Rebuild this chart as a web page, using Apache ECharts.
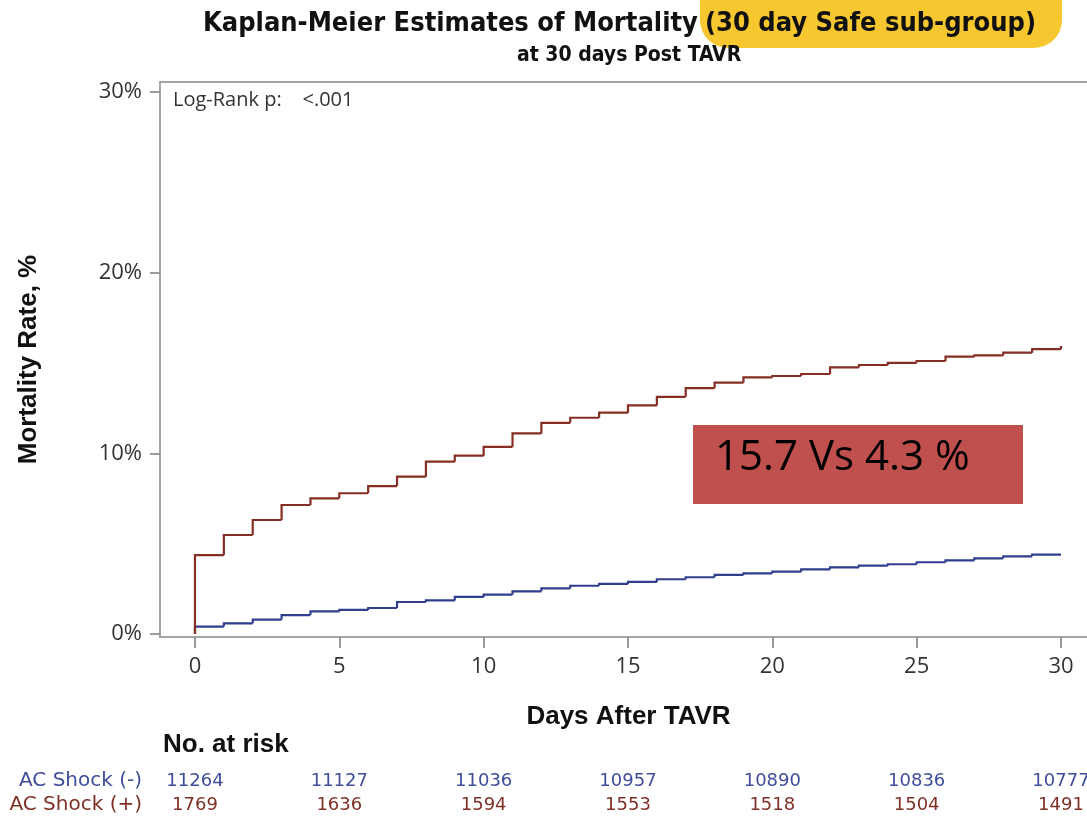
<!DOCTYPE html>
<html>
<head>
<meta charset="utf-8">
<script src="https://cdn.jsdelivr.net/npm/echarts@6/dist/echarts.min.js"></script>
<style>html,body{margin:0;padding:0;background:#fff}#c{width:1087px;height:817px}</style>
</head>
<body>
<div id="c"></div>
<script>
// ---- data ----
const days = [0,1,2,3,4,5,6,7,8,9,10,11,12,13,14,15,16,17,18,19,20,21,22,23,24,25,26,27,28,29,30];
// cumulative mortality (%) from each day onward
const shockPlus  = [4.37,5.48,6.31,7.14,7.51,7.79,8.19,8.71,9.54,9.87,10.36,11.10,11.69,11.97,12.25,12.65,13.13,13.61,13.91,14.20,14.28,14.39,14.76,14.89,15.01,15.11,15.35,15.42,15.57,15.77,15.94];
const shockMinus = [0.41,0.59,0.80,1.05,1.25,1.33,1.44,1.77,1.86,2.05,2.18,2.36,2.52,2.67,2.77,2.88,3.03,3.14,3.27,3.36,3.45,3.58,3.69,3.78,3.86,3.97,4.08,4.19,4.30,4.39,4.39];
const xTicks = [0,5,10,15,20,25,30];
const yTicks = [0,10,20,30];
const riskRows = ['AC Shock (-)','AC Shock (+)'];
const riskMinus = [11264,11127,11036,10957,10890,10836,10777];
const riskPlus  = [1769,1636,1594,1553,1518,1504,1491];

const RED = '#862E24', BLUE = '#313E8E';
const RED_TXT = '#7F3026', BLUE_TXT = '#3F4D9B';
const FONT = 'Open Sans';

// each item: [day, value, value before step, next day]
function stepItems(vals){
  return days.map((d,i)=>[d, vals[i], i===0?0:vals[i-1], i<days.length-1?days[i+1]:d]);
}
function stepRenderer(color){
  return function(params, api){
    const d = api.value(0), v = api.value(1), pv = api.value(2), nd = api.value(3);
    const pts = [api.coord([d,pv]), api.coord([d,v]), api.coord([nd,v])];
    return {type:'polyline', shape:{points:pts}, style:{stroke:color, lineWidth:2.2, fill:null, lineJoin:'miter'}};
  };
}

const chart = echarts.init(document.getElementById('c'), null, {renderer:'canvas'});
chart.setOption({
  animation:false,
  backgroundColor:'#fff',
  grid:[
    {left:160, width:947, top:82, height:555, show:true, borderColor:'#a4a4a4', borderWidth:1.8, outerBoundsMode:'none', containLabel:false},
    {left:160, width:947, top:769, height:48, show:false, outerBoundsMode:'none', containLabel:false}
  ],
  xAxis:[
    {type:'value', gridIndex:0, min:-1.212, max:31.594,
     axisLine:{show:true, onZero:false, lineStyle:{color:'#a4a4a4', width:1.8}},
     axisTick:{show:true, customValues:xTicks, length:11, lineStyle:{color:'#909090', width:1.8}},
     axisLabel:{customValues:xTicks, fontFamily:FONT, fontSize:22, color:'#333', margin:19},
     splitLine:{show:false},
     name:'Days After TAVR', nameLocation:'middle', nameGap:67,
     nameTextStyle:{fontFamily:'Liberation Sans', fontWeight:'bold', fontSize:26, color:'#111', padding:[0,10,0,0]}
    },
    {type:'value', gridIndex:1, min:-1.212, max:31.594, show:false}
  ],
  yAxis:[
    {type:'value', gridIndex:0, min:-0.166, max:30.553,
     axisLine:{show:true, onZero:false, lineStyle:{color:'#a4a4a4', width:1.8}},
     axisTick:{show:true, customValues:yTicks, length:10, lineStyle:{color:'#909090', width:1.8}},
     axisLabel:{customValues:yTicks, formatter:v=>Math.round(v)+'%', fontFamily:FONT, fontSize:22, color:'#333', margin:18},
     splitLine:{show:false},
     name:'Mortality Rate, %', nameLocation:'middle', nameGap:118,
     nameTextStyle:{fontFamily:'Liberation Sans', fontWeight:'bold', fontSize:26, color:'#111'}
    },
    {type:'category', gridIndex:1, data:riskRows, inverse:true,
     axisLine:{show:false}, axisTick:{show:false}, splitLine:{show:false},
     axisLabel:{interval:0, hideOverlap:false, fontFamily:'DejaVu Sans', fontSize:20, margin:18,
       color:(v,i)=> (v===riskRows[0]?BLUE_TXT:RED_TXT)}
    }
  ],
  series:[
    {type:'custom', name:'AC Shock (-)', xAxisIndex:0, yAxisIndex:0, data:stepItems(shockMinus),
     renderItem:stepRenderer(BLUE), z:2, clip:false},
    {type:'custom', name:'AC Shock (+)', xAxisIndex:0, yAxisIndex:0, data:stepItems(shockPlus),
     renderItem:stepRenderer(RED), z:3, clip:false},
    {type:'scatter', xAxisIndex:1, yAxisIndex:1, symbolSize:0, itemStyle:{opacity:1},
     data:xTicks.map((d,i)=>({value:[d,riskRows[0]], n:riskMinus[i]})),
     label:{show:true, position:'inside', formatter:p=>String(p.data.n), fontFamily:'DejaVu Sans', fontSize:18, color:BLUE_TXT}},
    {type:'scatter', xAxisIndex:1, yAxisIndex:1, symbolSize:0, itemStyle:{opacity:1},
     data:xTicks.map((d,i)=>({value:[d,riskRows[1]], n:riskPlus[i]})),
     label:{show:true, position:'inside', formatter:p=>String(p.data.n), fontFamily:'DejaVu Sans', fontSize:18, color:RED_TXT}}
  ],
  graphic:[
    {type:'rect', left:700, top:-30, shape:{width:362, height:78, r:28}, style:{fill:'#F6C72F'}, z:1},
    {type:'text', left:203, top:10, z:2, style:{text:'Kaplan-Meier Estimates of Mortality', font:'bold 27px "DejaVu Sans Condensed", sans-serif', fill:'#111'}},
    {type:'text', left:705, top:10, z:2, style:{text:'(30 day Safe sub-group)', font:'bold 27px "DejaVu Sans Condensed", sans-serif', fill:'#111'}},
    {type:'text', left:517, top:45, z:2, style:{text:'at 30 days Post TAVR', font:'bold 21px "DejaVu Sans Condensed", sans-serif', fill:'#111'}},
    {type:'text', left:173, top:90, z:2, style:{text:'Log-Rank p:    <.001', font:'20px "Open Sans", sans-serif', fill:'#333'}},
    {type:'rect', left:693, top:425, shape:{width:330, height:79}, style:{fill:'#C0504D'}, z:5},
    {type:'text', left:715, top:437, z:6, style:{text:'15.7 Vs 4.3 %', font:'42px "Open Sans", sans-serif', fill:'#000'}},
    {type:'text', left:163, top:732, z:2, style:{text:'No. at risk', font:'bold 26px "Liberation Sans", sans-serif', fill:'#111'}}
  ]
});
</script>
</body>
</html>
